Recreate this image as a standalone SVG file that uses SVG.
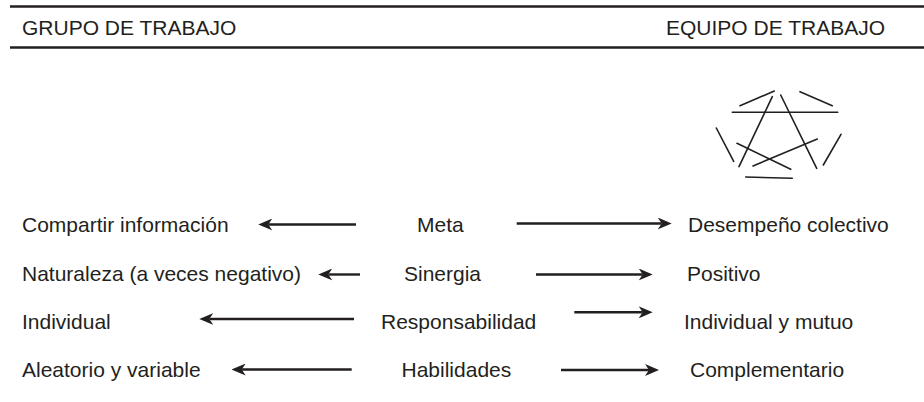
<svg xmlns="http://www.w3.org/2000/svg" width="924" height="402" viewBox="0 0 924 402">
<defs>
<style>
text{font-family:"Liberation Sans",Arial,sans-serif;font-size:21px;fill:#231f20}
.rule{stroke:#231f20;stroke-width:2.6}
.arr{stroke:#231f20;stroke-width:2.4;fill:none;marker-end:url(#ah)}
.pl{stroke:#231f20;stroke-width:1.6;stroke-linecap:round}
</style>
<marker id="ah" viewBox="0 0 14 12" refX="4" refY="6" markerWidth="14" markerHeight="12" markerUnits="userSpaceOnUse" orient="auto">
<path d="M0,0 L14,6 L0,12 L4,6 Z" fill="#231f20"/>
</marker>
</defs>
<rect width="924" height="402" fill="#fff"/>
<g id="header">
<line class="rule" x1="10" y1="6.5" x2="924" y2="6.5"/>
<line class="rule" x1="10" y1="47.5" x2="924" y2="47.5"/>
<text x="22" y="35">GRUPO DE TRABAJO</text>
<text x="885" y="35" text-anchor="end">EQUIPO DE TRABAJO</text>
</g>
<g id="team-figure">
<line class="pl" x1="740" y1="105.7" x2="774.3" y2="91"/>
<line class="pl" x1="800" y1="91.7" x2="832.3" y2="105.7"/>
<line class="pl" x1="732.3" y1="112.3" x2="837.7" y2="112.3"/>
<line class="pl" x1="716.3" y1="128" x2="733.7" y2="161.3"/>
<line class="pl" x1="841" y1="134.3" x2="823.3" y2="165"/>
<line class="pl" x1="745.7" y1="177" x2="792.3" y2="178.3"/>
<line class="pl" x1="772.3" y1="96.7" x2="739" y2="166.7"/>
<line class="pl" x1="780.7" y1="95" x2="816.7" y2="168.3"/>
<line class="pl" x1="737" y1="143.3" x2="790.7" y2="169.3"/>
<line class="pl" x1="817.3" y1="139" x2="753" y2="166"/>
</g>
<g id="left-labels">
<text x="22" y="232">Compartir información</text>
<text x="22" y="280.5">Naturaleza (a veces negativo)</text>
<text x="22" y="329">Individual</text>
<text x="22" y="377">Aleatorio y variable</text>
</g>
<g id="center-labels">
<text x="417" y="232">Meta</text>
<text x="404" y="280.5">Sinergia</text>
<text x="381" y="329">Responsabilidad</text>
<text x="401.5" y="377">Habilidades</text>
</g>
<g id="right-labels">
<text x="688" y="232">Desempeño colectivo</text>
<text x="687" y="280.5">Positivo</text>
<text x="684" y="329">Individual y mutuo</text>
<text x="690" y="377">Complementario</text>
</g>
<g id="connectors">
<line class="arr" x1="356" y1="224.5" x2="268.3" y2="224.5"/>
<line class="arr" x1="516.7" y1="223.5" x2="661.7" y2="223.5"/>
<line class="arr" x1="360" y1="274.5" x2="328.3" y2="274.5"/>
<line class="arr" x1="536" y1="274.5" x2="642.7" y2="274.5"/>
<line class="arr" x1="354" y1="319" x2="209.3" y2="319"/>
<line class="arr" x1="574.3" y1="312.3" x2="642.7" y2="312.3"/>
<line class="arr" x1="351.7" y1="369.5" x2="241.7" y2="369.5"/>
<line class="arr" x1="561" y1="370" x2="649" y2="370"/>
</g>
</svg>
